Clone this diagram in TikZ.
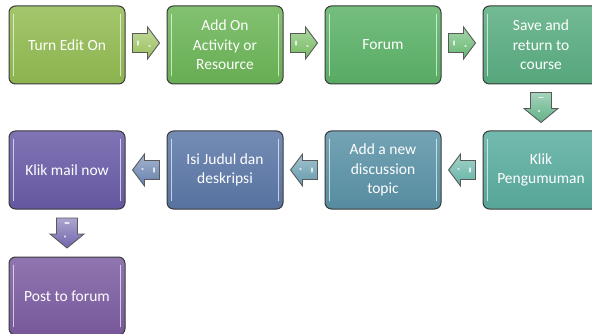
\documentclass[tikz,border=0pt]{standalone}
\usepackage{fontspec}
\setmainfont{Carlito}
\usetikzlibrary{calc}
\definecolor{c1}{HTML}{93BC52}
\definecolor{c2}{HTML}{6CB657}
\definecolor{c3}{HTML}{5CB368}
\definecolor{c4}{HTML}{5AAE82}
\definecolor{c5}{HTML}{5AAE9F}
\definecolor{c6}{HTML}{5B93A8}
\definecolor{c7}{HTML}{5C78A8}
\definecolor{c8}{HTML}{6A5CA8}
\definecolor{c9}{HTML}{7D5DA2}
\definecolor{edge}{HTML}{3A3A3A}
\tikzset{
  stepbox/.style={draw=edge, line width=1pt, rounded corners=6.5pt,
    minimum width=116pt, minimum height=78pt, inner sep=0pt,
    text=white, align=center, font=\fontsize{15.5}{19.5}\selectfont,
    top color=#1!85!white, bottom color=#1!95!black},
  hl/.style={draw=white, opacity=0.65, line width=1.6pt, line cap=round},
  arrowbody/.style={draw=black!65, line width=0.9pt, top color=#1!55!white, bottom color=#1!95!white},
  glint/.style={draw=white, opacity=0.75, line width=1.3pt, line cap=round},
  rarrow/.pic={
    \path[arrowbody=#1] (-13.5,-9.5) -- (1.5,-9.5) -- (1.5,-16) -- (13.5,0) -- (1.5,16) -- (1.5,9.5) -- (-13.5,9.5) -- cycle;
    \path[glint] (-8,-2) -- (-8,2);
    \path[glint] (3,3) -- (4,3);
  },
  larrow/.pic={
    \path[arrowbody=#1] (13.5,-9.5) -- (-1.5,-9.5) -- (-1.5,-16) -- (-13.5,0) -- (-1.5,16) -- (-1.5,9.5) -- (13.5,9.5) -- cycle;
    \path[glint] (8,-2) -- (8,2);
    \path[glint] (-3,-1) -- (-4,-1);
  },
  darrow/.pic={
    \path[arrowbody=#1] (-10.5,-15) -- (-10.5,1) -- (-17,1) -- (0,15) -- (17,1) -- (10.5,1) -- (10.5,-15) -- cycle;
    \path[glint] (-2,-10) -- (2,-10);
    \path[glint] (-2,3) -- (-2,4);
  }
}
\begin{document}
\begin{tikzpicture}[x=1pt,y=-1pt]
\useasboundingbox (0,0) rectangle (592,334);
\clip (0,0) rectangle (592,334);
\node[stepbox=c1] (b1) at (67,45) {Turn Edit On};
\node[stepbox=c2] (b2) at (225,45) {Add On\\Activity or\\Resource};
\node[stepbox=c3] (b3) at (383,45) {Forum};
\node[stepbox=c4] (b4) at (541,45) {Save and\\return to\\course};
\node[stepbox=c5] (b5) at (541,170) {Klik\\Pengumuman};
\node[stepbox=c6] (b6) at (383,170) {Add a new\\discussion\\topic};
\node[stepbox=c7] (b7) at (225,170) {Isi Judul dan\\deskripsi};
\node[stepbox=c8] (b8) at (67,170) {Klik mail now};
\node[stepbox=c9] (b9) at (67,296) {Post to forum};
\foreach \b in {b1,b2,b3,b4,b5,b6,b7,b8,b9}{
  \draw[hl] ($(\b.north west)+(5,9)$) -- ($(\b.south west)+(5,-9)$);
  \draw[hl] ($(\b.north east)+(-5,9)$) -- ($(\b.south east)+(-5,-9)$);
}
\pic at ($($(b1.east)!0.5!(b2.west)$)+(0,-2)$) {rarrow=c1};
\pic at ($($(b2.east)!0.5!(b3.west)$)+(0,-2)$) {rarrow=c2};
\pic at ($($(b3.east)!0.5!(b4.west)$)+(0,-2)$) {rarrow=c3};
\pic at ($(b4.south)!0.5!(b5.north)$) {darrow=c4};
\pic at ($(b5.west)!0.5!(b6.east)$) {larrow=c5};
\pic at ($(b6.west)!0.5!(b7.east)$) {larrow=c6};
\pic at ($(b7.west)!0.5!(b8.east)$) {larrow=c7};
\pic at ($(b8.south)!0.5!(b9.north)$) {darrow=c8};
\end{tikzpicture}
\end{document}
